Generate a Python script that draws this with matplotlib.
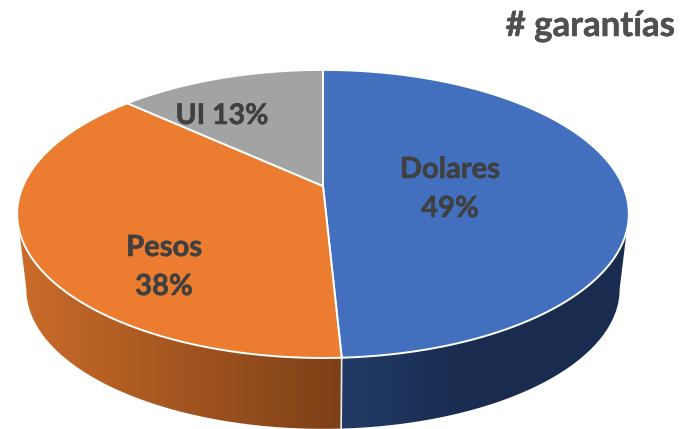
import numpy as np
import matplotlib
matplotlib.use("Agg")
import matplotlib.pyplot as plt
import matplotlib.patheffects as pe
from matplotlib.colors import LinearSegmentedColormap
from matplotlib.patches import Polygon

# datos
nombres = ["Dolares", "Pesos", "UI"]
valores = [49.2, 37.6, 13.2]
titulo = "# garantías"

# colores
col_top = ["#4270BF", "#EB7C30", "#A3A3A3"]
col_lado = [[(0.13, 0.23, 0.40), (0.10, 0.17, 0.31)],
            [(0.49, 0.25, 0.09), (0.79, 0.42, 0.16)]]
col_texto = "#404040"

# geometria del disco, en pixeles de la imagen
cx, cy = 323, 186
a, b, k = 300, 138.6, 0.194
esc_base, dy_base = 0.97, 76


def borde(t, s=1.0, dy=0.0):
    # angulo (0 arriba, sentido horario) -> punto con perspectiva
    u, v = np.sin(t), np.cos(t)
    d = 1 + k * v
    return cx + s * a * u / d, cy + dy - s * b * v / d


fig = plt.figure(figsize=(6.83, 4.29), dpi=100)
ax = fig.add_axes([0, 0, 1, 1])

frac = np.cumsum([0] + valores) / sum(valores)
ang = frac * 2 * np.pi

# paredes laterales con degrade horizontal
# la parte visible empieza y termina donde el disco es mas ancho
t_ancho = np.arccos(-k)
x_frente = borde(ang[1])[0]
alcance = [130, 320]
for i in range(2):
    ts = np.linspace(max(ang[i], t_ancho), min(ang[i + 1], 2 * np.pi - t_ancho), 300)
    x1, y1 = borde(ts)
    x2, y2 = borde(ts, esc_base, dy_base)
    pared = Polygon(np.c_[np.r_[x1, x2[::-1]], np.r_[y1, y2[::-1]]], closed=True,
                    facecolor="none", edgecolor="none", transform=ax.transData)
    ax.add_patch(pared)
    cmap = LinearSegmentedColormap.from_list("lado", col_lado[i])
    f = np.clip(np.abs(np.arange(683) + 0.5 - x_frente) / alcance[i], 0, 1)
    im = ax.imshow(f[None, :], cmap=cmap, vmin=0, vmax=1, extent=(0, 683, 429, 0),
                   aspect="auto", interpolation="bilinear", zorder=2)
    im.set_clip_path(pared)

ax.set_xlim(0, 683)
ax.set_ylim(429, 0)
ax.axis("off")

# linea entre paredes
xf, yf = borde(ang[1])
xb, yb = borde(ang[1], esc_base, dy_base)
ax.plot([xf, xb], [yf, yb], color="#e8e8e8", lw=1.2, zorder=3)

# cara superior
for i in range(3):
    ts = np.linspace(ang[i], ang[i + 1], 200)
    xs, ys = borde(ts)
    ax.fill(np.r_[cx, xs], np.r_[cy, ys], facecolor=col_top[i], edgecolor="white",
            lw=1.4, joinstyle="round", zorder=4)

# textos
trazo = [pe.withStroke(linewidth=0.4, foreground=col_texto)]
fuente = dict(family="Lato", weight="bold", color=col_texto, ha="center", va="center",
              zorder=5, path_effects=trazo)
ax.text(450, 170, nombres[0], fontsize=21, **fuente)
ax.text(450, 209, "%.0f%%" % valores[0], fontsize=21, **fuente)
ax.text(164, 248, nombres[1], fontsize=21, **fuente)
ax.text(164, 287, "%.0f%%" % valores[1], fontsize=21, **fuente)
ax.text(222, 116, "%s %.0f%%" % (nombres[2], valores[2]), fontsize=20.5, **fuente)
ax.text(675, 26, titulo, family="Lato", weight="bold", color="#505050", fontsize=25,
        ha="right", va="center", path_effects=[pe.withStroke(linewidth=0.4, foreground="#505050")])

fig.savefig("out.png", dpi=100)
